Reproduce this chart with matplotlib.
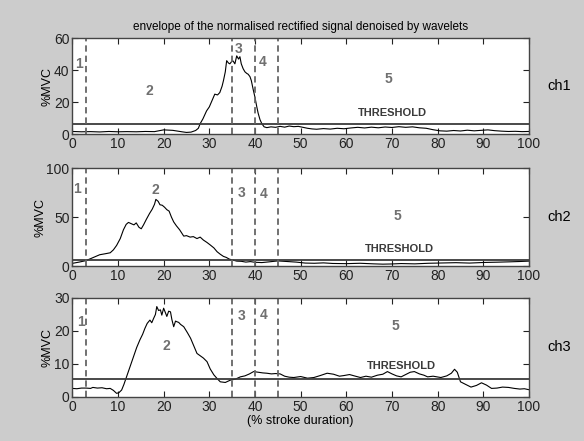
import matplotlib
matplotlib.use("Agg")
import matplotlib.pyplot as plt

plt.rcParams['font.family'] = ['Liberation Sans', 'DejaVu Sans']

# ---- data ----
ch1_x = [0, 2, 4, 6, 8, 10, 12, 14, 16, 18, 20, 22, 24, 25, 26, 27, 27.6, 28, 28.6, 29.4, 30, 30.6, 31.2, 31.8, 32.3,
         32.8, 33.1, 33.5, 33.8, 34.2, 34.5, 34.9, 35.2, 35.6, 36, 36.4, 36.7, 37, 37.4, 37.8, 38.2, 38.5, 38.9,
         39.2, 39.6, 40, 40.4, 40.7, 41.1, 41.5, 42, 42.6, 43.5, 44.5, 45.5, 46.5, 47.5, 48.5, 49.5, 50.5, 51.5,
         52.5, 53.5, 55, 56.5, 58, 59.5, 61, 62.5, 64, 65.5, 67, 68.5, 70, 71.5, 73, 74.5, 76, 77.5, 79, 80.5,
         82, 83.5, 85, 86.5, 88, 89.5, 91, 92.5, 94, 95.5, 97, 98.5, 100]
ch1_y = [1.6, 1.4, 1.5, 1.3, 1.6, 1.4, 1.5, 1.4, 1.6, 1.5, 2.6, 2.3, 1.4, 1.0, 1.2, 2.2, 3.6, 6.5, 9.5, 14.5, 17.0,
         21.0, 25.0, 24.5, 26.0, 30.0, 33.5, 39.0, 46.0, 44.5, 44.0, 45.5, 45.8, 44.0, 49.0, 47.0, 48.5, 44.0,
         41.0, 39.0, 38.0, 37.5, 36.0, 33.5, 28.0, 23.0, 17.0, 13.0, 9.0, 6.5, 4.5, 4.0, 4.5, 4.2, 4.8, 4.3, 5.0,
         4.6, 4.8, 4.2, 3.6, 3.2, 3.0, 3.4, 3.1, 3.6, 3.3, 3.8, 4.2, 3.8, 4.3, 3.9, 4.4, 4.1, 4.6, 4.2, 4.5,
         3.9, 3.6, 2.7, 2.0, 1.8, 2.2, 1.9, 2.4, 2.0, 2.3, 2.6, 2.1, 1.8, 1.6, 1.7, 1.5, 1.6]

ch2_x = [0, 1.5, 3, 4.5, 6, 7.2, 8.3, 9, 9.7, 10.5, 11.2, 11.8, 12.3, 13, 13.5, 14, 14.6, 15.1, 15.6, 16.2, 16.9,
         17.5, 18.0, 18.3, 18.8, 19.2, 19.7, 20.2, 20.7, 21.2, 21.7, 22.2, 22.8, 23.5, 24.4, 25, 25.8, 26.5, 27.3,
         28, 28.7, 29.5, 30.2, 31, 31.7, 32.4, 33.1, 33.7, 34.4, 35.2, 36, 37, 38, 39, 40, 41.5, 43, 45, 47, 49,
         51, 53, 55, 57, 60, 63, 66, 68, 70, 72, 75, 78, 81, 84, 87, 90, 93, 96, 98, 100]
ch2_y = [2.7, 4.0, 5.5, 8.5, 11.5, 12.5, 13.5, 16.5, 21.0, 28.0, 37.0, 42.5, 44.5, 43.0, 42.0, 44.0, 39.5, 38.0,
         42.0, 47.5, 53.5, 58.0, 63.0, 68.0, 66.0, 62.5, 62.0, 60.0, 57.5, 56.0, 50.0, 45.0, 41.0, 37.0, 30.5,
         31.0, 29.5, 30.0, 28.0, 29.5, 26.5, 24.0, 21.5, 18.5, 14.6, 12.0, 9.8, 8.8, 7.0, 6.0, 5.0, 4.8, 4.0,
         4.5, 3.8, 3.5, 4.2, 5.2, 4.6, 4.0, 3.0, 2.8, 3.2, 2.6, 2.4, 2.8, 2.2, 1.9, 2.1, 2.5, 2.2, 2.8, 3.1, 3.4,
         3.0, 3.6, 3.9, 4.3, 4.6, 5.0]

ch3_x = [0, 1, 2, 3, 4, 4.5, 5.5, 6.5, 7.5, 8.3, 9, 9.7, 10.2, 10.8, 11.3, 11.9, 12.6, 13.4, 14.1, 14.8, 15.4,
         15.9, 16.4, 17, 17.4, 17.8, 18.2, 18.5, 18.9, 19.3, 19.6, 20, 20.4, 20.7, 21.1, 21.5, 21.8, 22.2, 22.6,
         22.9, 23.3, 23.7, 24.4, 25.2, 25.9, 26.6, 27.3, 28, 28.7, 29.5, 30.2, 31, 31.7, 32.4, 33.5, 34.6, 35.7,
         36.8, 37.8, 38.8, 39.7, 40.7, 41.7, 42.6, 43.6, 44.5, 45.5, 46.5, 47.5, 48.5, 50, 51.5, 52.9, 54.3, 55.8,
         57.2, 58.5, 59.5, 60.7, 62, 63.1, 64.3, 65.5, 66.8, 68, 69, 70, 71, 72, 73, 74, 74.9, 76, 77, 77.8, 79,
         80.7, 82, 83, 83.7, 84.3, 85, 86, 87.3, 88.5, 89.6, 90.7, 91.8, 93, 94.2, 95.5, 96.8, 98, 99, 100]
ch3_y = [2.6, 2.5, 2.7, 2.7, 2.6, 2.9, 2.7, 2.8, 2.5, 2.6, 2.0, 1.1, 1.3, 2.1, 3.8, 6.2, 9.0, 12.2, 15.0, 17.3,
         19.0, 20.8, 22.3, 23.3, 22.5, 23.8, 25.0, 27.4, 26.2, 26.4, 24.8, 26.9, 25.5, 24.4, 26.0, 25.8, 23.5,
         21.3, 23.0, 22.8, 22.6, 22.0, 21.3, 19.5, 17.8, 15.5, 13.2, 12.5, 11.8, 10.7, 8.5, 6.7, 5.6, 4.6, 4.4,
         5.1, 5.4, 6.1, 6.4, 7.0, 7.7, 7.5, 7.3, 7.2, 7.0, 7.1, 7.0, 6.3, 6.0, 5.9, 6.2, 5.7, 5.9, 6.5, 7.2, 6.9,
         6.3, 6.5, 6.8, 6.3, 5.9, 6.3, 6.0, 6.6, 6.9, 7.7, 7.0, 6.4, 6.1, 6.8, 7.5, 7.7, 7.0, 6.6, 6.1, 6.3, 5.9,
         6.4, 7.2, 8.4, 7.5, 4.6, 3.9, 3.0, 3.5, 4.3, 3.6, 2.6, 2.7, 3.0, 2.9, 2.6, 2.4, 2.5, 2.2]

thresholds = [6.3, 6.0, 5.3]
phase_bounds = [3, 35, 40, 45]
channels = ['ch1', 'ch2', 'ch3']
ylims = [60, 100, 30]
yticks = [[0, 20, 40, 60], [0, 50, 100], [0, 10, 20, 30]]
xticks = list(range(0, 101, 10))
phase_labels = ['1', '2', '3', '4', '5']
phase_label_pos = [
    [(1.5, 43.6), (16.9, 27), (36.5, 53.5), (41.7, 45), (69.3, 34.8)],
    [(1.0, 79), (18.1, 77.5), (37.1, 74), (41.8, 73.6), (71.3, 51)],
    [(1.9, 22.8), (20.5, 15.5), (37.1, 24.5), (41.9, 24.8), (70.7, 21.5)],
]
threshold_label_pos = [(70.2, 13), (71.7, 17), (72.1, 9.4)]

title = 'envelope of the normalised rectified signal denoised by wavelets'
xlabel = '(% stroke duration)'
ylabel = '%MVC'

xs = [ch1_x, ch2_x, ch3_x]
ys = [ch1_y, ch2_y, ch3_y]

# ---- figure ----
bg = '#cccccc'
fig = plt.figure(figsize=(5.84, 4.41), dpi=100, facecolor=bg)
rects = [
    [0.1238, 0.6961, 0.7820, 0.2170],
    [0.1238, 0.3968, 0.7820, 0.2222],
    [0.1238, 0.0998, 0.7820, 0.2245],
]
for i in range(3):
    ax = fig.add_axes(rects[i])
    ax.set_facecolor('white')
    ax.plot(xs[i], ys[i], color='black', lw=0.8)
    ax.axhline(thresholds[i], color='#3a3a3a', lw=1.3)
    for b in phase_bounds:
        ax.axvline(b, color='#666666', lw=1.3, ls=(0, (3.5, 2.2)))
    for lab, (px, py) in zip(phase_labels, phase_label_pos[i]):
        ax.text(px, py, lab, color='#707070', fontsize=10, fontweight='bold',
                ha='center', va='center')
    tx, ty = threshold_label_pos[i]
    ax.text(tx, ty, 'THRESHOLD', color='#3a3a3a', fontsize=8, fontweight='bold',
            ha='center', va='center')
    ax.set_xlim(0, 100)
    ax.set_ylim(0, ylims[i])
    ax.set_xticks(xticks)
    ax.set_yticks(yticks[i])
    ax.tick_params(direction='in', top=True, right=True, length=4, width=0.8,
                   labelsize=10, colors='#222222', pad=2)
    for s in ax.spines.values():
        s.set_color('#444444')
        s.set_linewidth(1.0)
    ax.set_ylabel(ylabel, fontsize=9, labelpad=0)
    ax.text(1.04, 0.5, channels[i], transform=ax.transAxes, fontsize=10.5,
            ha='left', va='center')
    if i == 0:
        ax.set_title(title, fontsize=8.5, pad=6)
    if i == 2:
        ax.set_xlabel(xlabel, fontsize=9, labelpad=1)

fig.savefig('out.png', dpi=100, facecolor=bg)
